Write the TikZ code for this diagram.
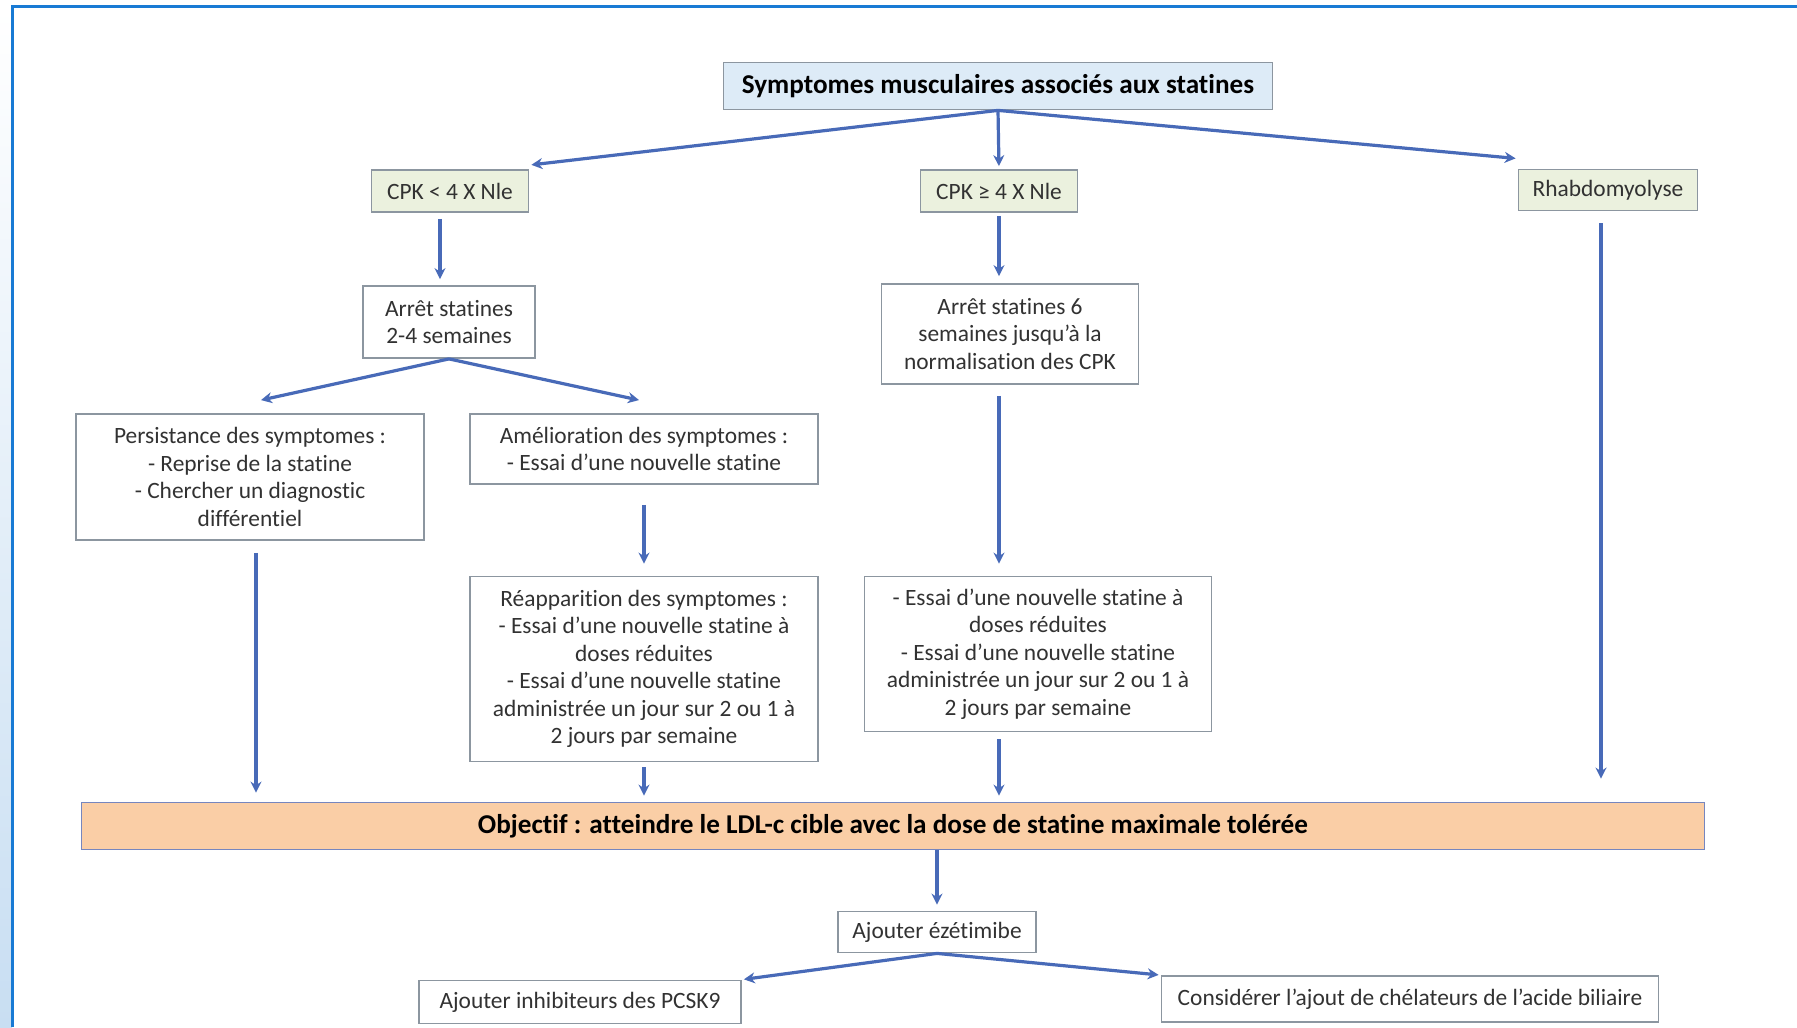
\documentclass[tikz,border=0pt]{standalone}
\usepackage{fontspec}
\setmainfont{Carlito}[Ligatures=NoCommon]
\usepackage{tikz}
\usetikzlibrary{arrows.meta,positioning,calc}

\definecolor{lineblue}{RGB}{72,106,184}
\definecolor{frameblue}{RGB}{24,122,212}
\definecolor{stripblue}{RGB}{200,222,242}
\definecolor{boxgrey}{RGB}{140,150,160}
\definecolor{txtgrey}{RGB}{50,50,50}
\definecolor{topfill}{RGB}{221,235,247}
\definecolor{cpkfill}{RGB}{235,241,222}
\definecolor{objfill}{RGB}{250,206,166}
\definecolor{objline}{RGB}{118,134,190}

\tikzset{
  box/.style={draw=boxgrey, line width=0.9pt, fill=white, align=center, inner sep=2pt,
    text=txtgrey, font=\fontsize{11.7}{13.75}\selectfont},
  bigbox/.style={box, text=black, font=\fontsize{13.6}{16}\selectfont\bfseries},
  flow/.style={draw=lineblue, line width=1.6pt, -{Stealth[length=5.5pt,width=5.5pt]}},
}

\begin{document}
\begin{tikzpicture}[x=0.5pt,y=-0.5pt]
\useasboundingbox (0,0) rectangle (1797,1027);
\fill[white] (0,0) rectangle (1797,1027);
% left strip and frame
\shade[top color=white, bottom color=stripblue] (0,7) rectangle (12,1027);
\draw[frameblue, line width=1.5pt] (12,1027) -- (12,7) -- (1797,7);

% top level
\node[bigbox, fill=topfill, minimum width=274.5pt, minimum height=23.5pt] (sym) at (998,86)
  {Symptomes musculaires associés aux statines};
\node[box, fill=cpkfill, minimum width=78.5pt, minimum height=21pt] (cpkA) at (450,191) {CPK < 4 X Nle};
\node[box, fill=cpkfill, minimum width=78.5pt, minimum height=21pt] (cpkB) at (999,191) {CPK ≥ 4 X Nle};
\node[box, fill=cpkfill, minimum width=89.5pt, minimum height=20.5pt] (rhabdo) at (1608,190) {Rhabdomyolyse};

% second level
\node[box, minimum width=86pt, minimum height=36pt] (arretA) at (449,322)
  {Arrêt statines\\2-4 semaines};
\node[box, minimum width=128.5pt, minimum height=50pt] (arretB) at (1010,334)
  {Arrêt statines 6\\semaines jusqu'à la\\normalisation des CPK};

% third level
\node[box, minimum width=174pt, minimum height=63pt] (persist) at (250,477)
  {Persistance des symptomes :\\- Reprise de la statine\\- Chercher un diagnostic\\différentiel};
\node[box, minimum width=174pt, minimum height=35pt] (amelio) at (644,449)
  {Amélioration des symptomes :\\- Essai d’une nouvelle statine};
\node[box, minimum width=174pt, minimum height=92.5pt] (reapp) at (644,669)
  {Réapparition des symptomes :\\- Essai d’une nouvelle statine à\\doses réduites\\- Essai d’une nouvelle statine\\administrée un jour sur 2 ou 1 à\\2 jours par semaine};
\node[box, minimum width=173.5pt, minimum height=77.5pt] (essai) at (1038,654)
  {- Essai d’une nouvelle statine à\\doses réduites\\- Essai d’une nouvelle statine\\administrée un jour sur 2 ou 1 à\\2 jours par semaine};

% objective
\node[bigbox, draw=objline, fill=objfill, minimum width=811.5pt, minimum height=23.5pt] (obj) at (893,826)
  {Objectif : atteindre le LDL-c cible avec la dose de statine maximale tolérée};

% bottom
\node[box, minimum width=99pt, minimum height=20.5pt] (ezet) at (937,932) {Ajouter ézétimibe};
\node[box, minimum width=161pt, minimum height=21.5pt] (pcsk) at (580,1002) {Ajouter inhibiteurs des PCSK9};
\node[box, minimum width=248.5pt, minimum height=23pt] (chel) at (1410,999)
  {Considérer l'ajout de chélateurs de l'acide biliaire};

% connectors
\draw[flow, shorten >=1pt] (sym.south) -- ([yshift=2pt]cpkA.north east);
\draw[flow, shorten >=1.5pt] (sym.south) -- (cpkB.north);
\draw[flow, shorten >=1pt] (sym.south) -- ([yshift=5pt]rhabdo.north west);

\draw[flow, shorten <=3pt, shorten >=3pt] ([xshift=-5pt]cpkA.south) -- ([xshift=-5pt]cpkA.south |- arretA.north);
\draw[flow, shorten <=1.5pt, shorten >=3.5pt] (cpkB.south) -- (cpkB.south |- arretB.north);
\draw[flow, shorten <=6pt, shorten >=11.5pt] ([xshift=-3.5pt]rhabdo.south) -- ([xshift=-3.5pt]rhabdo.south |- obj.north);

\draw[flow] (arretA.south) -- ([xshift=5.5pt,yshift=6.5pt]persist.north);
\draw[flow] (arretA.south) -- ([xshift=-2.5pt,yshift=6.5pt]amelio.north);
\draw[flow, shorten <=5.5pt, shorten >=6pt] (cpkB.south |- arretB.south) -- (cpkB.south |- essai.north);

\draw[flow, shorten <=6pt, shorten >=4.5pt] ([xshift=3pt]persist.south) -- ([xshift=3pt]persist.south |- obj.north);
\draw[flow, shorten <=10pt, shorten >=6pt] (amelio.south) -- (reapp.north);
\draw[flow, shorten <=2.5pt, shorten >=3pt] (reapp.south) -- (reapp.south |- obj.north);
\draw[flow, shorten <=3.5pt, shorten >=3pt] (cpkB.south |- essai.south) -- (cpkB.south |- obj.north);

\draw[flow, shorten >=3pt] (ezet.north |- obj.south) -- (ezet.north);
\draw[flow, shorten >=1pt] (ezet.south) -- (pcsk.north east);
\draw[flow, shorten >=1pt] (ezet.south) -- (chel.north west);
\end{tikzpicture}
\end{document}
